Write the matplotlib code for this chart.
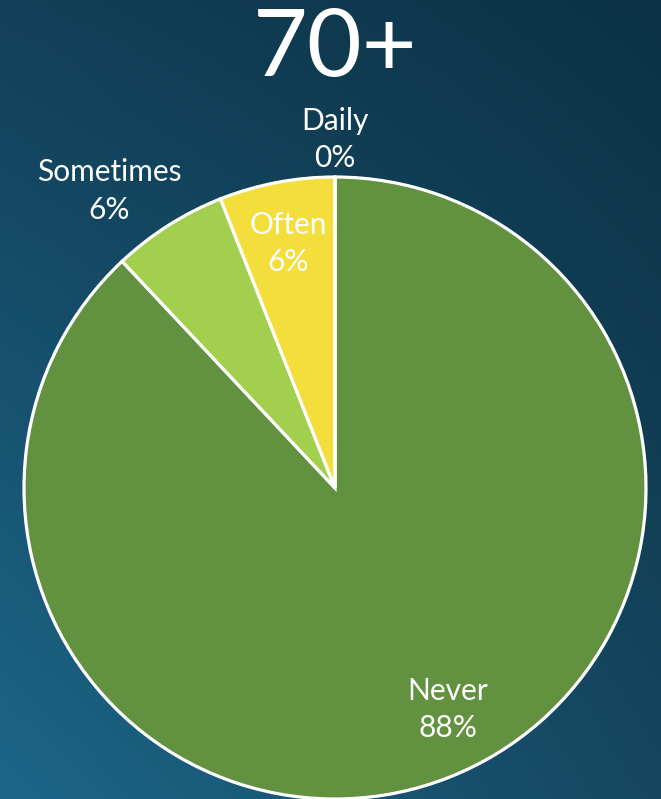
import numpy as np
import matplotlib
matplotlib.use('Agg')
import matplotlib.pyplot as plt
from matplotlib.colors import to_rgb

plt.rcParams['font.family'] = ['Lato', 'DejaVu Sans']

TITLE = '70+'
categories = ['Never', 'Sometimes', 'Often', 'Daily']
shares = [88, 6, 6, 0]
colors = ['#629140', '#a3cf4e', '#f3de3c', '#f3de3c']
# how far out each label sits (pie radius = 1)
label_dist = [0.80, 1.20, 0.80, 1.12]

fig = plt.figure(figsize=(6.61, 7.99), dpi=100)

# background gradient
bg = fig.add_axes([0, 0, 1, 1])
bg.axis('off')
tl, tr = np.array(to_rgb('#124058')), np.array(to_rgb('#0b3245'))
bl, br = np.array(to_rgb('#1c6689')), np.array(to_rgb('#15475f'))
u = np.linspace(0, 1, 200)[None, :, None]
v = np.linspace(0, 1, 240)[:, None, None]
img = (1 - v) * ((1 - u) * tl + u * tr) + v * ((1 - u) * bl + u * br)
bg.imshow(img, aspect='auto', extent=[0, 1, 0, 1], origin='upper')

# pie
W, H = 661, 799
cx, cy, r = 335, 488, 311
ax = fig.add_axes([(cx - r) / W, (H - cy - r) / H, 2 * r / W, 2 * r / H])
wedges, _ = ax.pie(shares, colors=colors, startangle=90, counterclock=False,
                   wedgeprops=dict(edgecolor='white', linewidth=2.3))
ax.set_xlim(-1, 1)
ax.set_ylim(-1, 1)
ax.set_aspect('equal')
ax.axis('off')

for w, name, val, d in zip(wedges, categories, shares, label_dist):
    mid = np.deg2rad((w.theta1 + w.theta2) / 2)
    x, y = d * np.cos(mid), d * np.sin(mid)
    if name == 'Never':
        # nudge like the original
        mid = np.deg2rad(-63)
        x, y = d * np.cos(mid), d * np.sin(mid)
    if name == 'Sometimes':
        x, y = -0.725, 0.955
    ax.text(x, y, f'{name}\n{val}%', ha='center', va='center', color='white',
            fontsize=21.5, linespacing=1.4, clip_on=False)

fig.text(cx / W, 1 - 50 / H, TITLE, ha='center', va='center', color='white',
         fontsize=68, fontweight='normal')

fig.savefig('out.png', dpi=100)
